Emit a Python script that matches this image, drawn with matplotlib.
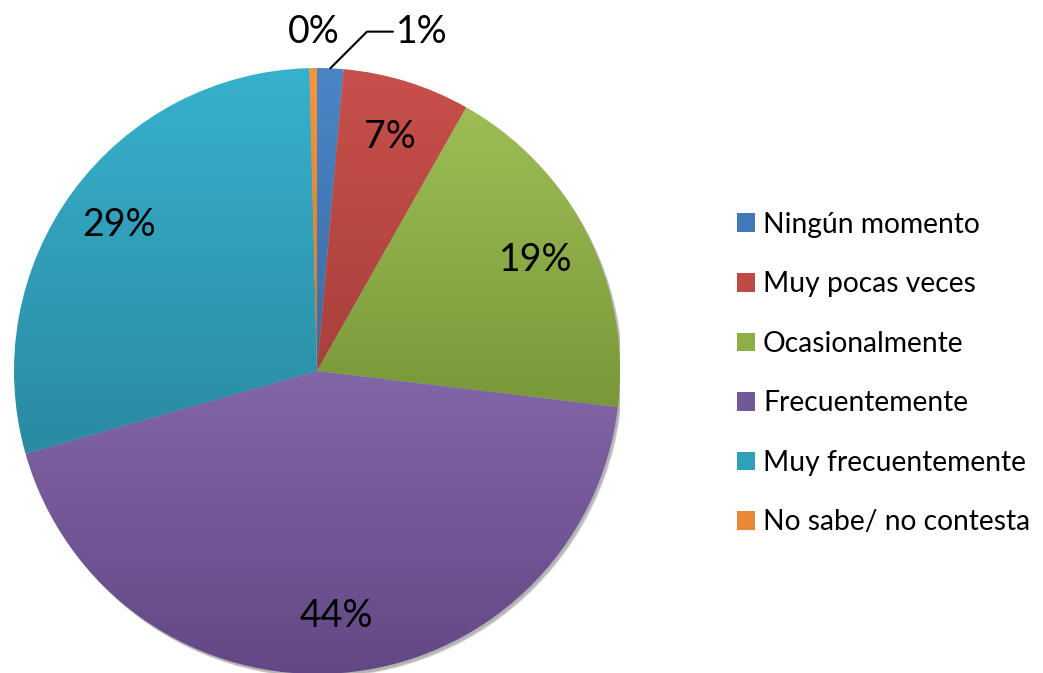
import numpy as np
import matplotlib
matplotlib.use('Agg')
import matplotlib.pyplot as plt
from matplotlib.patches import Patch, Circle

labels = ['Ningún momento', 'Muy pocas veces', 'Ocasionalmente',
          'Frecuentemente', 'Muy frecuentemente', 'No sabe/ no contesta']
values = [1.4, 6.8, 18.7, 43.7, 29.0, 0.4]
top_colors = ['#4A86C6', '#C8504A', '#9DBE55', '#8266A8', '#37B1CC', '#F7963A']
bot_colors = ['#3A6CA5', '#A9403D', '#789839', '#634885', '#2A8AA2', '#D0792A']
mid_colors = ['#4279B8', '#BD4A44', '#8DAE49', '#735897', '#309FB8', '#E88832']

plt.rcParams['font.family'] = ['Lato', 'DejaVu Sans']

fig = plt.figure(figsize=(10.43, 6.73), dpi=100)
ax = fig.add_axes([14 / 1043, (673 - 68 - 606) / 673, 606 / 1043, 606 / 673])

wedges, _ = ax.pie(values, startangle=90, counterclock=False, radius=1,
                   wedgeprops=dict(linewidth=0, zorder=2))
ax.set_aspect('equal')
ax.axis('off')

# soft shadow behind the pie
for k, a in enumerate([0.10, 0.10, 0.12]):
    ax.add_patch(Circle((0.006 + 0.002 * k, -0.008 - 0.002 * k), 1.0, facecolor='black',
                        edgecolor='none', alpha=a, zorder=0))


def hex_rgb(h):
    h = h.lstrip('#')
    return np.array([int(h[i:i + 2], 16) / 255 for i in (0, 2, 4)])


# vertical gradient inside each slice, lighter on top
for w, c1, c2 in zip(wedges, top_colors, bot_colors):
    w.set_facecolor('none')
    bb = w.get_path().get_extents(w.get_transform() - ax.transData)
    top = hex_rgb(c1)
    bot = hex_rgb(c2)
    t = np.linspace(0, 1, 256)[:, None]
    grad = top[None, :] * (1 - t) + bot[None, :] * t
    img = ax.imshow(grad[:, None, :], extent=[bb.x0, bb.x1, bb.y0, bb.y1],
                    origin='upper', aspect='auto', zorder=1, interpolation='bilinear')
    img.set_clip_path(w)
ax.set_xlim(-1, 1)
ax.set_ylim(-1, 1)

pct = [f'{round(v):.0f}%' for v in values]
for i, w in enumerate(wedges):
    ang = np.deg2rad((w.theta1 + w.theta2) / 2)
    if i in (1, 2, 3, 4):
        r = 0.81
        ax.text(r * np.cos(ang), r * np.sin(ang), pct[i], ha='center', va='center',
                fontsize=27, zorder=5)

# small slices labelled outside
ang0 = np.deg2rad((wedges[0].theta1 + wedges[0].theta2) / 2)
ax.annotate(pct[0], xy=(np.cos(ang0), np.sin(ang0)), xytext=(0.26, 1.12),
            ha='left', va='center', fontsize=27,
            arrowprops=dict(arrowstyle='-', color='black', lw=1.5,
                            connectionstyle='angle,angleA=0,angleB=45,rad=0',
                            shrinkA=0, shrinkB=0),
            annotation_clip=False)
ax.text(-0.01, 1.12, pct[5], ha='center', va='center', fontsize=27)

handles = [Patch(facecolor=c, edgecolor='none') for c in mid_colors]
fig.legend(handles, labels, loc='center left', bbox_to_anchor=(737 / 1043, 0.445),
           frameon=False, fontsize=20.3, handlelength=0.64, handleheight=0.64,
           handletextpad=0.28, labelspacing=1.19, borderpad=0, borderaxespad=0)

fig.savefig('out.png', dpi=100)
